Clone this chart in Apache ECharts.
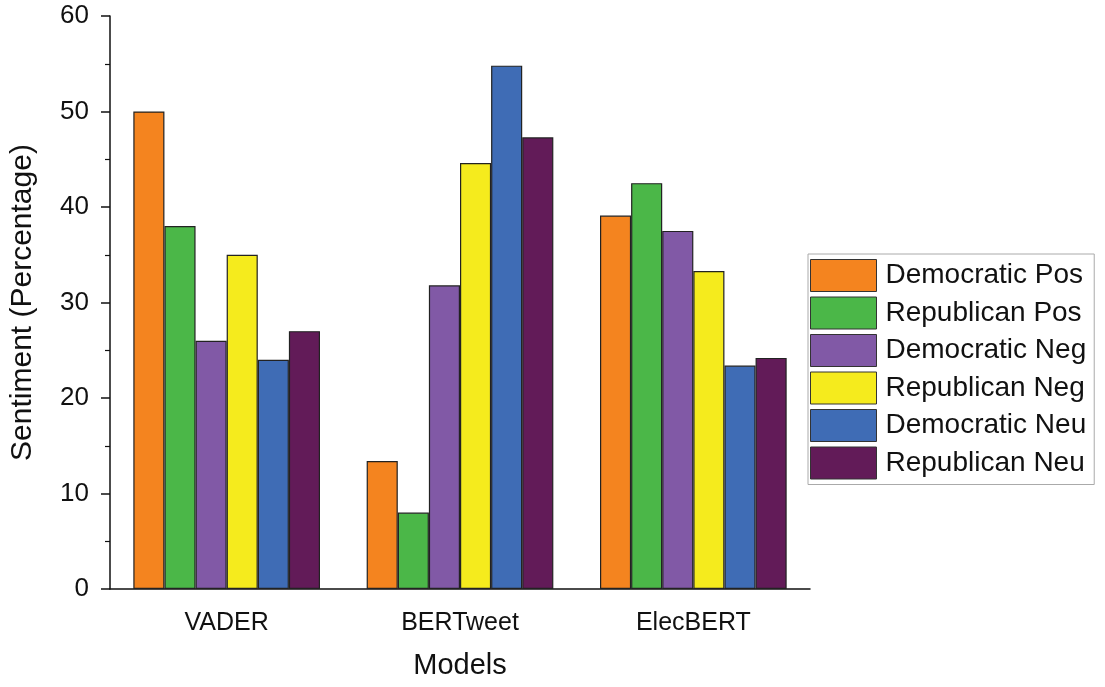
<!DOCTYPE html>
<html><head><meta charset="utf-8">
<script src="https://cdn.jsdelivr.net/npm/echarts@6/dist/echarts.min.js"></script>
<style>html,body{margin:0;padding:0;background:#fff}#c{width:1105px;height:687px}</style>
</head><body><div id="c"></div>
<script>
const categories = ['VADER', 'BERTweet', 'ElecBERT'];
const seriesNames = ['Democratic Pos', 'Republican Pos', 'Democratic Neg', 'Republican Neg', 'Democratic Neu', 'Republican Neu'];
const democraticPos = [50.0, 13.4, 39.1];
const republicanPos = [38.0, 8.0, 42.5];
const democraticNeg = [26.0, 31.8, 37.5];
const republicanNeg = [35.0, 44.6, 33.3];
const democraticNeu = [24.0, 54.8, 23.4];
const republicanNeu = [27.0, 47.3, 24.2];
const yTicks = [0, 10, 20, 30, 40, 50, 60];
const colors = ['#F4841F', '#4BB748', '#8159A6', '#F5EB1D', '#3F6CB5', '#621B58'];
const values = [democraticPos, republicanPos, democraticNeg, republicanNeg, democraticNeu, republicanNeu];

const chart = echarts.init(document.getElementById('c'));
const font = 'Liberation Sans, Arial, sans-serif';
chart.setOption({
  animation: false,
  textStyle: { fontFamily: font },
  color: colors,
  grid: { left: 107, right: 295, top: 16, bottom: 98 },
  legend: {
    orient: 'vertical', left: 808, top: 254,
    icon: 'rect',
    itemWidth: 66, itemHeight: 32, itemGap: 4.5,
    padding: [5, 8, 5, 2],
    borderColor: '#aaa', borderWidth: 1,
    textStyle: { fontSize: 28, color: '#111', fontFamily: font, padding: [0, 0, 0, 4] },
    itemStyle: { borderColor: '#333', borderWidth: 1 },
    data: seriesNames
  },
  xAxis: [{
    type: 'category', data: categories,
    name: 'Models', nameLocation: 'middle', nameGap: 62,
    nameTextStyle: { fontSize: 29, color: '#111' },
    axisLine: { lineStyle: { color: '#111', width: 1.5 } },
    axisTick: { alignWithLabel: true, length: 10, lineStyle: { color: '#111', width: 1.5 } },
    axisLabel: { fontSize: 25, color: '#111', margin: 22 }
  }, {
    type: 'category', data: categories, position: 'bottom',
    axisLine: { show: false },
    axisTick: { length: 5, lineStyle: { color: '#111', width: 1.5 } },
    axisLabel: { show: false }
  }],
  yAxis: {
    type: 'value', min: yTicks[0], max: yTicks[yTicks.length - 1], interval: 10,
    name: 'Sentiment (Percentage)', nameLocation: 'middle', nameGap: 72,
    nameTextStyle: { fontSize: 30, color: '#111' },
    axisLine: { show: true, lineStyle: { color: '#111', width: 1.5 } },
    axisTick: { show: true, length: 9, lineStyle: { color: '#111', width: 1.5 } },
    minorTick: { show: true, splitNumber: 2, length: 5, lineStyle: { color: '#111', width: 1.2 } },
    splitLine: { show: false },
    axisLabel: { fontSize: 26, color: '#111', margin: 21 }
  },
  series: seriesNames.map((n, i) => ({
    name: n, type: 'bar', data: values[i],
    barGap: '0%', barCategoryGap: '20%',
    itemStyle: { color: colors[i], borderColor: '#222', borderWidth: 1.2 }
  }))
});
</script></body></html>
